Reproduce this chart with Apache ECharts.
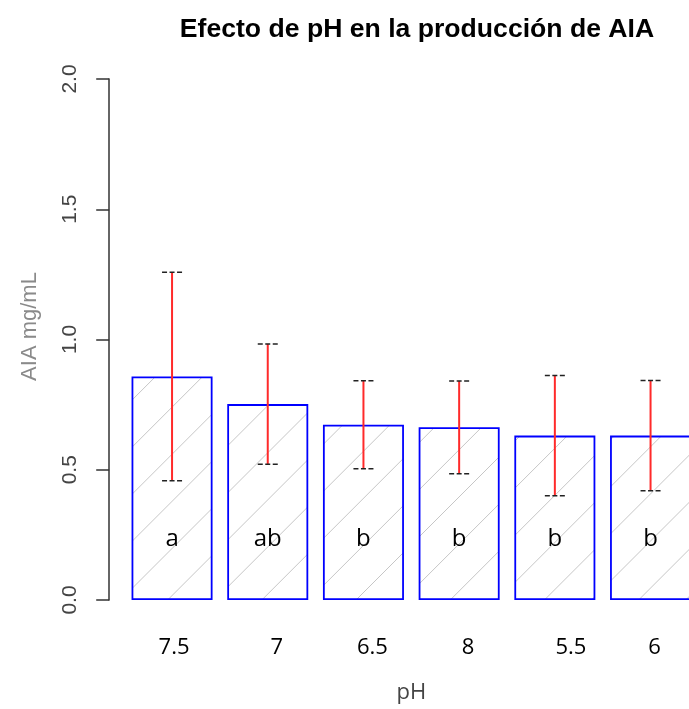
<!DOCTYPE html>
<html>
<head>
<meta charset="utf-8">
<style>
  html, body { margin: 0; padding: 0; background: #ffffff; overflow: hidden; }
  /* the plot runs a few pixels past the right edge of the page */
  #chart { width: 699px; height: 709px; }
</style>
<script src="https://cdn.jsdelivr.net/npm/echarts@6/dist/echarts.min.js"></script>
</head>
<body>
<div id="chart"></div>
<script>
// pH treatments, in plotted order
const categories = ['7.5', '7', '6.5', '8', '5.5', '6'];
// mean AIA concentration (mg/mL) per treatment
const means = [0.858, 0.752, 0.673, 0.663, 0.631, 0.631];
// standard deviation shown by the error bars
const sds = [0.40, 0.231, 0.169, 0.178, 0.231, 0.212];
// significance groups written inside each bar
const groups = ['a', 'ab', 'b', 'b', 'b', 'b'];
// y axis ticks
const yMin = 0, yMax = 2, yStep = 0.5;

// small horizontal nudges (px) for the category captions
const captionNudge = [2, 9, 9, 9, 16, 4];

// 45-degree hatch fill, one tile holding ten line periods so it repeats cleanly
function makeHatch() {
  const size = 471, period = 47.1, phase = 14;
  const c = document.createElement('canvas');
  c.width = size; c.height = size;
  const ctx = c.getContext('2d');
  ctx.strokeStyle = '#c6c6c6';
  ctx.lineWidth = 1;
  for (let k = -1; k <= 21; k++) {
    const s = phase + k * period; // line: x + y = s
    ctx.beginPath();
    ctx.moveTo(s + 20, -20);
    ctx.lineTo(s - size - 20, size + 20);
    ctx.stroke();
  }
  return c;
}

const captionFont = { fontFamily: 'Open Sans', fontSize: 22, color: '#000000' };
const captionRich = {};
captionNudge.forEach((n, i) => {
  captionRich['n' + i] = Object.assign({ padding: [0, 0, 0, 2 * n] }, captionFont);
});

const chart = echarts.init(document.getElementById('chart'), null, { renderer: 'canvas' });

const errData = categories.map((c, i) => [i, means[i], sds[i]]);

chart.setOption({
  animation: false,
  backgroundColor: '#ffffff',
  title: {
    text: 'Efecto de pH en la producción de AIA',
    left: 412,
    top: 11,
    textAlign: 'center',
    textStyle: {
      fontFamily: 'Liberation Sans',
      fontWeight: 'bold',
      fontSize: 26.6,
      color: '#000000'
    }
  },
  grid: { left: 124.2, width: 574.2, top: 79, bottom: 108, containLabel: false },
  xAxis: {
    type: 'category',
    data: categories,
    name: 'pH',
    nameLocation: 'middle',
    nameGap: 82,
    nameTextStyle: { fontFamily: 'Open Sans', fontSize: 22, color: '#444444' },
    axisLine: { show: false },
    axisTick: { show: false },
    axisLabel: Object.assign({
      interval: 0,
      hideOverlap: false,
      margin: 37,
      formatter: (v, i) => '{n' + i + '|' + v + '}',
      rich: captionRich
    }, captionFont)
  },
  yAxis: {
    type: 'value',
    min: yMin,
    max: yMax,
    interval: yStep,
    offset: 15,
    name: 'AIA mg/mL',
    nameLocation: 'middle',
    nameRotate: 90,
    nameGap: 68,
    nameTextStyle: {
      fontFamily: 'Liberation Sans',
      fontSize: 22,
      color: '#8a8a8a',
      padding: [0, 0, 0, 26]
    },
    axisLine: { show: true, lineStyle: { color: '#333333', width: 1.5 } },
    axisTick: { show: true, length: 13, lineStyle: { color: '#333333', width: 1.5 } },
    axisLabel: {
      rotate: 90,
      margin: 28,
      fontFamily: 'Liberation Sans',
      fontSize: 21,
      color: '#444444',
      formatter: v => v.toFixed(1)
    },
    splitLine: { show: false }
  },
  series: [
    {
      type: 'bar',
      data: means,
      barWidth: 81,
      itemStyle: {
        color: { image: makeHatch(), repeat: 'repeat' },
        borderColor: '#0000ff',
        borderWidth: 1.8
      },
      label: {
        show: true,
        position: 'insideBottom',
        distance: 49,
        formatter: p => groups[p.dataIndex],
        fontFamily: 'Open Sans',
        fontSize: 24,
        color: '#000000'
      },
      z: 2
    },
    {
      type: 'custom',
      data: errData,
      encode: { x: 0, y: 1 },
      z: 5,
      renderItem: (params, api) => {
        const i = api.value(0), m = api.value(1), s = api.value(2);
        const top = api.coord([i, m + s]);
        const bot = api.coord([i, m - s]);
        const half = 10;
        const cap = y => ({
          type: 'line',
          shape: { x1: top[0] - half, y1: y, x2: top[0] + half, y2: y },
          style: { stroke: '#222222', lineWidth: 1.5, lineDash: [5, 2.5] }
        });
        return {
          type: 'group',
          children: [
            {
              type: 'line',
              shape: { x1: top[0], y1: top[1], x2: bot[0], y2: bot[1] },
              style: { stroke: '#ff2a2a', lineWidth: 2 }
            },
            cap(top[1]),
            cap(bot[1])
          ]
        };
      }
    }
  ]
});
</script>
</body>
</html>
